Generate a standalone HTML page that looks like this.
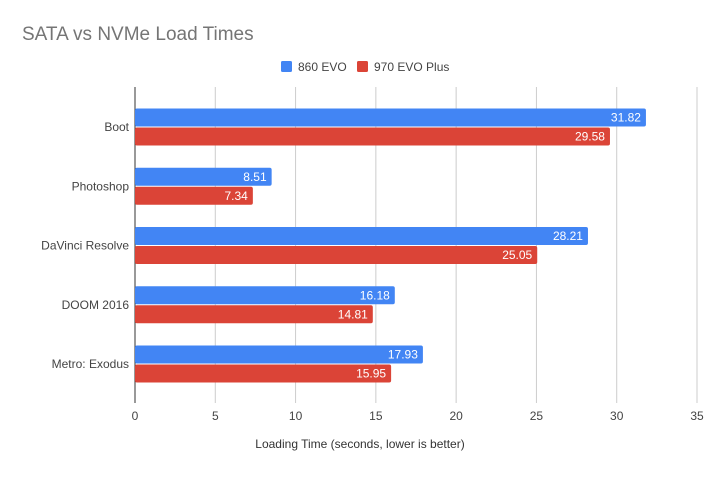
<!DOCTYPE html>
<html><head><meta charset="utf-8"><style>
body{margin:0;background:#fff;font-family:"Liberation Sans",sans-serif}
</style></head><body>
<svg id="c" width="720" height="472" xmlns="http://www.w3.org/2000/svg" font-family="Liberation Sans, sans-serif">
<rect width="720" height="472" fill="#fff"/>
<text x="22" y="40" font-size="19" fill="#757575">SATA vs NVMe Load Times</text>
<g>
<rect x="281" y="61" width="11" height="11" rx="1.5" fill="#4285f4"/>
<text x="298" y="71" font-size="12" fill="#444">860 EVO</text>
<rect x="357" y="61" width="11" height="11" rx="1.5" fill="#db4437"/>
<text x="374" y="71" font-size="12" fill="#444">970 EVO Plus</text>
</g>
<g id="grid"></g><g id="bars"></g>
<text x="360" y="448" font-size="12" fill="#333" text-anchor="middle">Loading Time (seconds, lower is better)</text>
</svg>
<script>
const categories=["Boot","Photoshop","DaVinci Resolve","DOOM 2016","Metro: Exodus"];
const evo860=[31.82,8.51,28.21,16.18,17.93];
const evo970=[29.58,7.34,25.05,14.81,15.95];
const xTicks=[0,5,10,15,20,25,30,35];
const NS="http://www.w3.org/2000/svg";
const x0=135,x1=697,xMax=35,yTop=87,yBot=403,bandTop=97.4,band=59.25;
const xs=v=>x0+v/xMax*(x1-x0);
const grid=document.getElementById('grid'),bars=document.getElementById('bars');
function mk(tag,a,p){const e=document.createElementNS(NS,tag);for(const k in a)e.setAttribute(k,a[k]);p.appendChild(e);return e;}
xTicks.forEach(t=>{
 const l=mk('line',{x1:xs(t),x2:xs(t),y1:yTop,y2:yBot,stroke:t===0?'#333':'#ccc','stroke-width':1},grid);
 
 
 const tx=mk('text',{x:xs(t),y:420,'font-size':12,fill:'#444','text-anchor':'middle'},grid);
 tx.textContent=t;
 
 
});
categories.forEach((c,i)=>{
 const cy=bandTop+band*(i+0.5);
 const lb=mk('text',{x:129,y:cy+4,'font-size':12,fill:'#444','text-anchor':'end'},bars);
 lb.textContent=c;
 
 
 [[evo860[i],'#4285f4',cy-18.5],[evo970[i],'#db4437',cy+0.5]].forEach(([v,col,y],j)=>{
  const r=mk('rect',{x:x0,y:y,width:xs(v)-x0,height:18,rx:2,fill:col},bars);
  
  
  const t=mk('text',{x:xs(v)-5,y:y+13,'font-size':12,fill:'#fff','text-anchor':'end'},bars);
  t.textContent=v.toFixed(2);
  
  
 });
});
</script>
</body></html>
